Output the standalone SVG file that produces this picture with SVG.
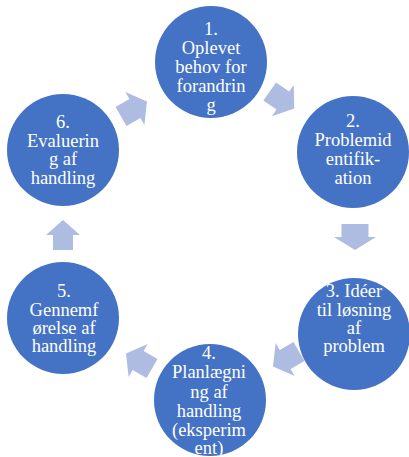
<svg xmlns="http://www.w3.org/2000/svg" width="409" height="457" viewBox="0 0 409 457">
<style>
.c{fill:#4472C4}
.a{fill:#AEBCE2}
.t{font-family:"Liberation Serif","Times New Roman",serif;font-size:18.5px;fill:#fff;text-anchor:middle}
</style>
<defs>
<polygon id="arr" points="-15,-11 1,-11 1,-19 15,0 1,19 1,11 -15,11"/>
</defs>
<rect width="409" height="457" fill="#fff"/>
<g id="connectors">
<use href="#arr" class="a" transform="translate(282,100) rotate(35)"/>
<polygon class="a" transform="translate(355,237) rotate(90)" points="-13,-13.5 0,-13.5 0,-21 13,0 0,21 0,13.5 -13,13.5"/>
<use href="#arr" class="a" transform="translate(286,359) rotate(150)"/>
<use href="#arr" class="a" transform="translate(139,361) rotate(210)"/>
<polygon class="a" transform="translate(63,235) rotate(-90)" points="-15,-10 0,-10 0,-17 15,0 0,17 0,10 -15,10"/>
<use href="#arr" class="a" transform="translate(134,109) rotate(-30)"/>
</g>
<g id="n1">
<circle class="c" cx="211" cy="62" r="56"/>
<text class="t" x="211" y="35">1.</text>
<text class="t" x="211" y="54">Oplevet</text>
<text class="t" x="211" y="73">behov for</text>
<text class="t" x="211" y="92">forandrin</text>
<text class="t" x="211" y="111">g</text>
</g>
<g id="n2">
<circle class="c" cx="353" cy="152" r="56"/>
<text class="t" x="353" y="127">2.</text>
<text class="t" x="353" y="146">Problemid</text>
<text class="t" x="353" y="165">entifik-</text>
<text class="t" x="353" y="184">ation</text>
</g>
<g id="n3">
<circle class="c" cx="354" cy="334" r="56"/>
<text class="t" x="354" y="297">3. Idéer</text>
<text class="t" x="354" y="316">til løsning</text>
<text class="t" x="354" y="334">af</text>
<text class="t" x="354" y="352">problem</text>
</g>
<g id="n4">
<circle class="c" cx="210" cy="400" r="56"/>
<text class="t" x="209" y="359">4.</text>
<text class="t" x="209" y="378">Planlægni</text>
<text class="t" x="209" y="398">ng af</text>
<text class="t" x="209" y="417">handling</text>
<text class="t" x="209" y="436">(eksperim</text>
<text class="t" x="209" y="454">ent)</text>
</g>
<g id="n5">
<circle class="c" cx="63" cy="318" r="56"/>
<text class="t" x="64" y="297">5.</text>
<text class="t" x="64" y="316">Gennemf</text>
<text class="t" x="64" y="334">ørelse af</text>
<text class="t" x="64" y="352">handling</text>
</g>
<g id="n6">
<circle class="c" cx="63" cy="150" r="56"/>
<text class="t" x="63" y="128">6.</text>
<text class="t" x="63" y="147">Evaluerin</text>
<text class="t" x="63" y="165">g af</text>
<text class="t" x="63" y="184">handling</text>
</g>
</svg>
